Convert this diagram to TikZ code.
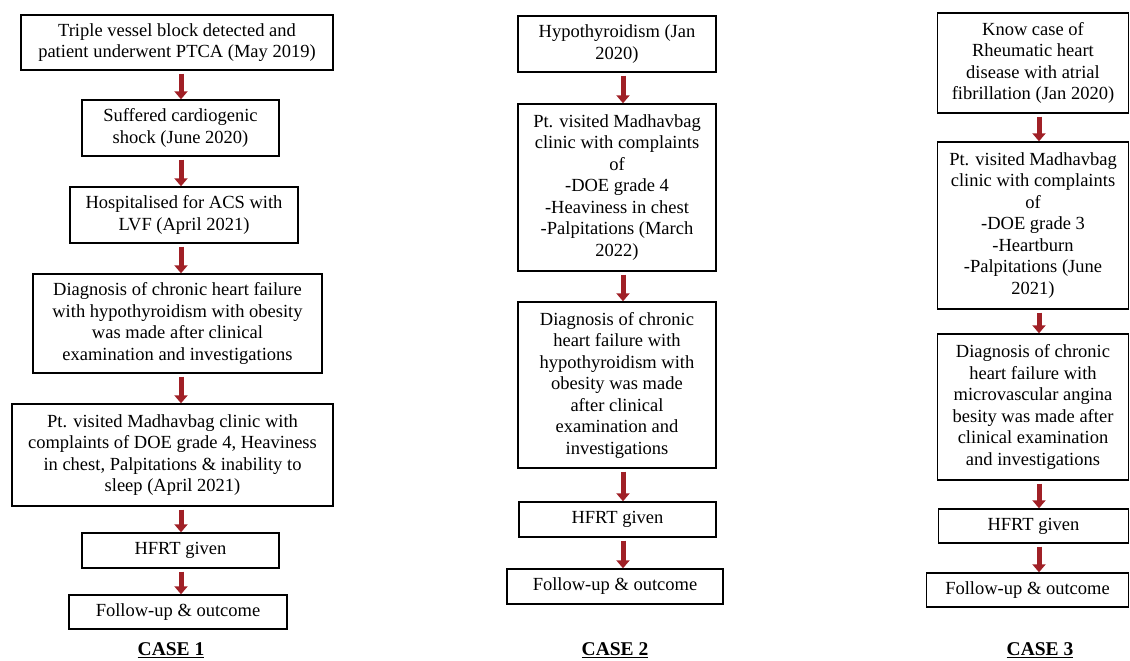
\documentclass[tikz,border=0pt]{standalone}
\usepackage{fontspec}
\setmainfont{Liberation Serif}
\usetikzlibrary{arrows.meta}
\definecolor{arrred}{RGB}{160,32,38}
\begin{document}
\begin{tikzpicture}[x=1pt,y=-1pt,
  box/.style={draw=black, line width=1.4pt, inner sep=0pt, align=center,
    font=\fontsize{18.5}{21.5}\selectfont},
  arr/.style={draw=arrred, line width=5pt, -{Triangle[width=13pt,length=8pt]}, shorten <=3pt},
  caselbl/.style={font=\fontsize{19.5}{22}\selectfont\bfseries, inner sep=0pt}]
\useasboundingbox (0,0) rectangle (1130,661);
% CASE 1
\node[box, minimum width=312pt, minimum height=55pt] (c1a) at (177,42.5) {Triple vessel block detected and\\patient underwent PTCA (May 2019)};
\node[box, minimum width=197pt, minimum height=56pt] (c1b) at (180.5,128) {Suffered cardiogenic\\shock (June 2020)};
\node[box, minimum width=228pt, minimum height=56pt] (c1c) at (184,215) {Hospitalised for ACS with\\LVF (April 2021)};
\node[box, minimum width=289pt, minimum height=99pt] (c1d) at (177.5,323.5) {Diagnosis of chronic heart failure\\with hypothyroidism with obesity\\was made after clinical\\examination and investigations};
\node[box, minimum width=321pt, minimum height=102pt] (c1e) at (172.5,455) {Pt. visited Madhavbag clinic with\\complaints of DOE grade 4, Heaviness\\in chest, Palpitations \& inability to\\sleep (April 2021)};
\node[box, minimum width=197pt, minimum height=35pt] (c1f) at (180.5,550.5) {HFRT given};
\node[box, minimum width=218pt, minimum height=34pt] (c1g) at (178,612) {Follow-up \& outcome};
\node[caselbl] (l1) at (171,650) {\underline{CASE 1}};
\coordinate (x1) at (181,0);
\draw[arr] (c1a.south -| x1) -- (c1b.north -| x1);
\draw[arr] (c1b.south -| x1) -- (c1c.north -| x1);
\draw[arr] (c1c.south -| x1) -- (c1d.north -| x1);
\draw[arr] (c1d.south -| x1) -- (c1e.north -| x1);
\draw[arr] (c1e.south -| x1) -- (c1f.north -| x1);
\draw[arr] (c1f.south -| x1) -- (c1g.north -| x1);
% CASE 2
\node[box, minimum width=198pt, minimum height=56pt] (c2a) at (617,44) {Hypothyroidism (Jan\\2020)};
\node[box, minimum width=198pt, minimum height=167pt] (c2b) at (617,187.5) {Pt. visited Madhavbag\\clinic with complaints\\of\\-DOE grade 4\\-Heaviness in chest\\-Palpitations (March\\2022)};
\node[box, minimum width=198pt, minimum height=166pt] (c2c) at (617,385) {Diagnosis of chronic\\heart failure with\\hypothyroidism with\\obesity was made\\after clinical\\examination and\\investigations};
\node[box, minimum width=197pt, minimum height=35pt] (c2d) at (617.5,519.5) {HFRT given};
\node[box, minimum width=216pt, minimum height=35pt] (c2e) at (615,586.5) {Follow-up \& outcome};
\node[caselbl] (l2) at (615,650) {\underline{CASE 2}};
\coordinate (x2) at (623,0);
\draw[arr] (c2a.south -| x2) -- (c2b.north -| x2);
\draw[arr] (c2b.south -| x2) -- (c2c.north -| x2);
\draw[arr] (c2c.south -| x2) -- (c2d.north -| x2);
\draw[arr] (c2d.south -| x2) -- (c2e.north -| x2);
% CASE 3
\node[box, minimum width=191pt, minimum height=100pt] (c3a) at (1033,63) {Know case of\\Rheumatic heart\\disease with atrial\\fibrillation (Jan 2020)};
\node[box, minimum width=191pt, minimum height=167pt] (c3b) at (1033,225.5) {Pt. visited Madhavbag\\clinic with complaints\\of\\-DOE grade 3\\-Heartburn\\-Palpitations (June\\2021)};
\node[box, minimum width=191pt, minimum height=146pt] (c3c) at (1033,407) {Diagnosis of chronic\\heart failure with\\microvascular angina\\besity was made after\\clinical examination\\and investigations};
\node[box, minimum width=190pt, minimum height=34pt] (c3d) at (1033.5,526) {HFRT given};
\node[box, minimum width=202pt, minimum height=34pt] (c3e) at (1027.5,590) {Follow-up \& outcome};
\node[caselbl] (l3) at (1040,650) {\underline{CASE 3}};
\coordinate (x3) at (1039,0);
\draw[arr] (c3a.south -| x3) -- (c3b.north -| x3);
\draw[arr] (c3b.south -| x3) -- (c3c.north -| x3);
\draw[arr] (c3c.south -| x3) -- (c3d.north -| x3);
\draw[arr] (c3d.south -| x3) -- (c3e.north -| x3);
\end{tikzpicture}
\end{document}
